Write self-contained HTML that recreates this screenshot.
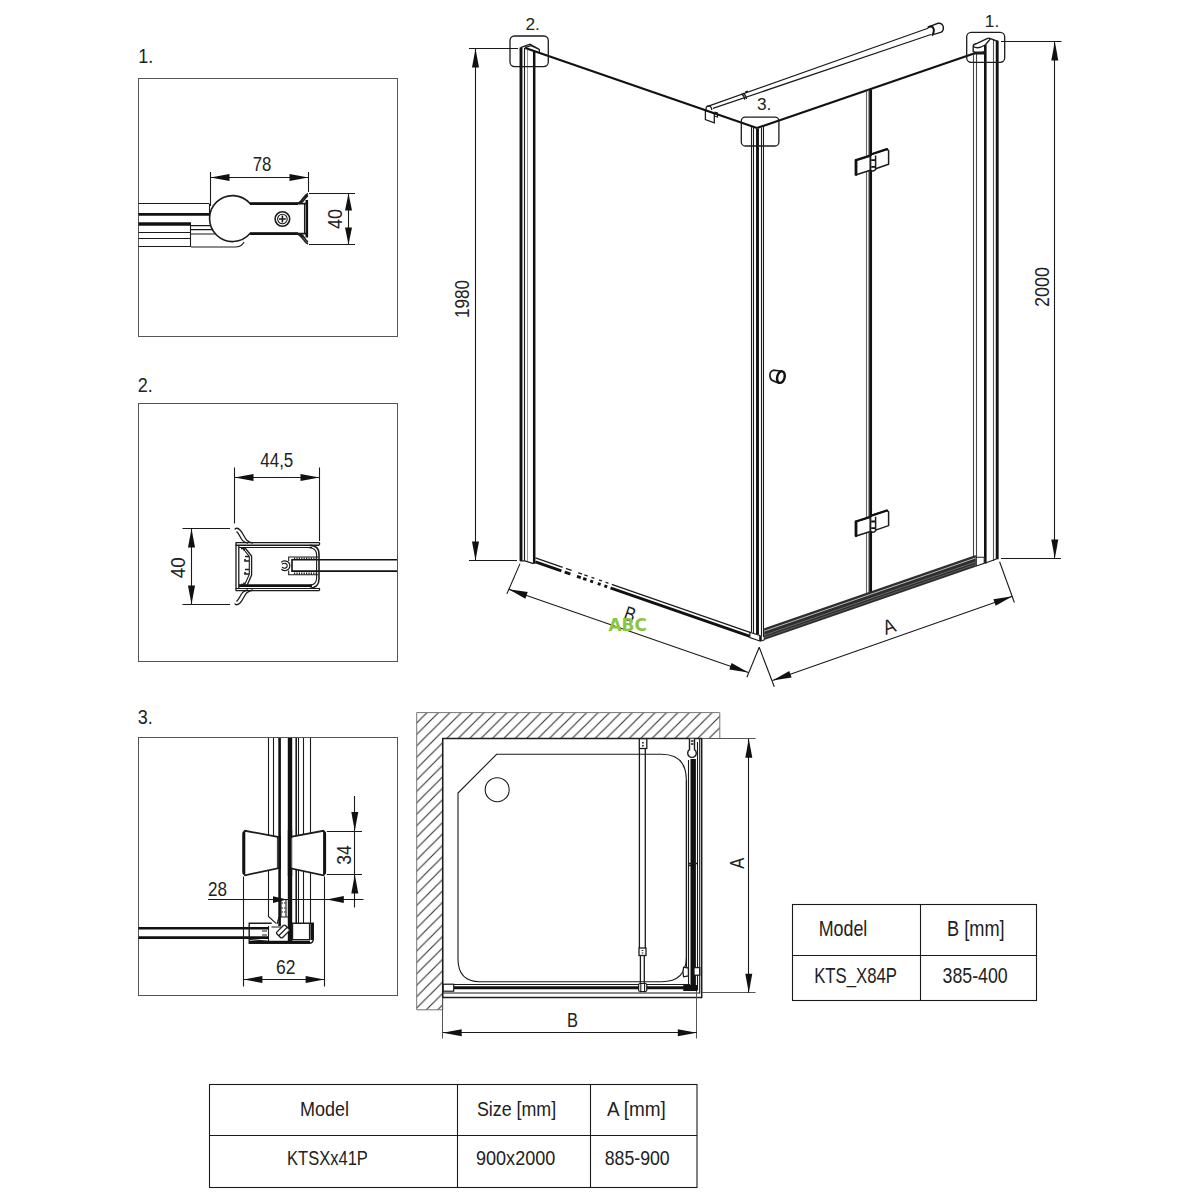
<!DOCTYPE html>
<html lang="en">
<head>
<meta charset="utf-8">
<title>Shower enclosure technical drawing</title>
<style>
html,body{margin:0;padding:0;background:#fff;}
body{width:1200px;height:1200px;overflow:hidden;font-family:"Liberation Sans",sans-serif;}
svg{display:block;}
svg text{font-family:"Liberation Sans",sans-serif;fill:#222;}
.t{stroke:#1a1a1a;stroke-width:1.1;fill:none;}
.g{stroke:#555;stroke-width:1;fill:none;}
.m{stroke:#1c1c1c;stroke-width:1.6;fill:none;}
.k{stroke:#111;stroke-width:2.6;fill:none;}
.kk{stroke:#111;stroke-width:3.6;fill:none;}
.w{fill:#fff;}
.ar{fill:#111;stroke:none;}
.d{font-size:20.5px;}
.lb{font-size:17.3px;}
.lbl{font-size:19.3px;}
.tb{font-size:20px;}
.tb2{font-size:21.5px;}
</style>
</head>
<body>
<svg width="1200" height="1200" viewBox="0 0 1200 1200">
<rect x="0" y="0" width="1200" height="1200" fill="#fff"/>

<!-- ===== detail frames and labels ===== -->
<g id="frames">
<rect class="g" x="138.5" y="78.5" width="259" height="258"/>
<rect class="g" x="138.5" y="403.5" width="259" height="258"/>
<rect class="g" x="138.5" y="737.5" width="259" height="258"/>
<text class="lbl" x="138.3" y="63" textLength="15" lengthAdjust="spacingAndGlyphs">1.</text>
<text class="lbl" x="137.8" y="392.3" textLength="15" lengthAdjust="spacingAndGlyphs">2.</text>
<text class="lbl" x="137.8" y="724.3" textLength="15" lengthAdjust="spacingAndGlyphs">3.</text>
</g>

<g id="detail1">
<line class="t" x1="138.5" y1="203.5" x2="209.0" y2="203.5"/>
<line class="t" x1="209.5" y1="203.6" x2="209.5" y2="214.0"/>
<line class="k" x1="138.5" y1="214.4" x2="212.0" y2="214.4"/>
<line class="kk" x1="138.5" y1="224.0" x2="191.0" y2="224.0"/>
<line class="t" x1="138.5" y1="232.5" x2="190.0" y2="232.5"/>
<line class="t" x1="138.5" y1="238.5" x2="190.0" y2="238.5"/>
<line class="t" x1="138.5" y1="246.5" x2="190.0" y2="246.5"/>
<line class="t" x1="190.5" y1="224.0" x2="190.5" y2="247.0"/>
<path class="t" d="M191,225.6 H214 M191,229.6 H212 M191,234 H215 M191,247 H236 Q242,246.5 244,242"/>
<path class="m" d="M307,203.6 H250 A23,23 0 1 0 250,233.6 H307" style="fill:#fff"/>
<line class="k" x1="250.0" y1="203.6" x2="298.0" y2="203.6"/>
<line class="k" x1="250.0" y1="233.6" x2="298.0" y2="233.6"/>
<line class="k" x1="306.8" y1="200.0" x2="306.8" y2="237.5"/>
<line class="t" x1="304.5" y1="204.0" x2="304.5" y2="233.5"/>
<path class="m" d="M296,203.6 C302,203.6 302.5,196 308,193.5 M299,203.6 C304,203 304,198 308,195.5"/>
<path class="m" d="M296,233.6 C302,233.6 302.5,241.5 308,244 M299,233.6 C304,234.2 304,239.5 308,242"/>
<circle class="m" cx="282.4" cy="219" r="7.3"/>
<circle class="t" cx="282.4" cy="219" r="4.8"/>
<path class="m" d="M279,219 H285.8 M282.4,215.6 V222.4"/>
<line class="t" x1="210.5" y1="172.0" x2="210.5" y2="206.0"/>
<line class="t" x1="308.5" y1="172.0" x2="308.5" y2="192.0"/>
<line class="t" x1="210.0" y1="177.5" x2="308.0" y2="177.5"/>
<polygon class="ar" points="210.5,177.5 229.5,174.0 229.5,181.0"/>
<polygon class="ar" points="308.5,177.5 289.5,181.0 289.5,174.0"/>
<text class="d" x="262.0" y="171.0" textLength="18.6" lengthAdjust="spacingAndGlyphs" text-anchor="middle">78</text>
<line class="t" x1="309.0" y1="193.5" x2="355.0" y2="193.5"/>
<line class="t" x1="309.0" y1="244.5" x2="355.0" y2="244.5"/>
<line class="t" x1="348.5" y1="193.5" x2="348.5" y2="244.5"/>
<polygon class="ar" points="348.5,193.5 352.0,210.5 345.0,210.5"/>
<polygon class="ar" points="348.5,244.5 345.0,227.5 352.0,227.5"/>
<text class="d" transform="translate(342.0,219.0) rotate(-90)" textLength="20.0" lengthAdjust="spacingAndGlyphs" text-anchor="middle">40</text>
</g>
<g id="detail2">
<path class="k" d="M397,559.8 H292 V571.1 H397" style="stroke-width:1.6"/>
<path class="t" d="M318,557 H288.7 V561 M288.7,570.5 V574.8 H318"/>
<path class="t" d="M294,558.4 H316 M294,573.4 H316" stroke-dasharray="1.2 1.2" style="stroke-width:2"/>
<path class="m" d="M281.4,562.3 C283,560 289.8,560.5 289.8,565.7 C289.8,571 283,571.5 281.4,569.2" style="stroke-width:1.2"/>
<path class="m" d="M282,564.2 C284,562.6 287.2,563 287.2,565.7 C287.2,568.5 284,568.9 282,567.3" style="stroke-width:1.2"/>
<path class="m" d="M235.6,542.6 H319 Q320.3,543.8 319,545.2 M235.6,590.6 H319 Q320.3,589.5 319,588.2" style="stroke-width:1.3"/>
<line class="m" x1="235.6" y1="545.2" x2="319.0" y2="545.2"/>
<line class="t" x1="239.0" y1="547.5" x2="312.0" y2="547.5"/>
<line class="k" x1="239.0" y1="585.6" x2="312.0" y2="585.6"/>
<line class="t" x1="235.6" y1="588.5" x2="319.0" y2="588.5"/>
<path class="m" d="M236,542.6 V590.6 M238.8,545 V588" style="stroke-width:1.3"/>
<path class="m" d="M310,545.4 C316,545.6 319,549 319,554 V579 C319,584 316,588 310,588.2"/>
<path class="t" d="M309,547.8 C313.5,548 316.6,550.5 316.6,555 V578 C316.6,582.5 313.5,585.2 309,585.4"/>
<path class="m" d="M244.7,547.5 L251.6,556 V575 L247,585.5" style="stroke-width:1.3"/>
<path class="t" d="M242.5,548 L249.3,556.5 V574.5 L244.5,585"/>
<path class="m" d="M241,548.5 h3 v2 M241,584.5 h3 v-2 M245,556.5 h4 M245,559 v2 h4 M245,569.5 h4 M245,572 v2 h4" style="stroke-width:1.6"/>
<path class="m" d="M234.8,529.5 C235.5,527.5 238,528 240,530 C245,535 244,541.5 253,543 M236.5,531.5 C241,535 240,542 248,543" style="stroke-width:1.3"/>
<path class="m" d="M234.8,603.5 C235.5,605.5 238,605 240,603 C245,598 244,591.5 253,590 M236.5,601.5 C241,598 240,591 248,590" style="stroke-width:1.3"/>
<line class="t" x1="234.5" y1="467.5" x2="234.5" y2="523.5"/>
<line class="t" x1="319.5" y1="467.5" x2="319.5" y2="541.0"/>
<line class="t" x1="234.5" y1="477.5" x2="319.5" y2="477.5"/>
<polygon class="ar" points="234.5,477.5 253.5,474.0 253.5,481.0"/>
<polygon class="ar" points="319.5,477.5 300.5,481.0 300.5,474.0"/>
<text class="d" x="276.8" y="467.0" textLength="33.0" lengthAdjust="spacingAndGlyphs" text-anchor="middle">44,5</text>
<line class="t" x1="182.5" y1="528.5" x2="230.0" y2="528.5"/>
<line class="t" x1="182.5" y1="604.5" x2="230.0" y2="604.5"/>
<line class="t" x1="191.5" y1="528.5" x2="191.5" y2="604.5"/>
<polygon class="ar" points="191.5,528.5 195.0,547.5 188.0,547.5"/>
<polygon class="ar" points="191.5,604.5 188.0,585.5 195.0,585.5"/>
<text class="d" transform="translate(184.7,567.8) rotate(-90)" textLength="21.0" lengthAdjust="spacingAndGlyphs" text-anchor="middle">40</text>
</g>
<g id="detail3">
<path class="t" d="M268.5,738 V916.5 L276,923.3"/>
<line class="t" x1="273.5" y1="738.0" x2="273.5" y2="836.0"/>
<line class="k" x1="279.6" y1="738.0" x2="279.6" y2="926.0"/>
<line class="kk" style="stroke-width:4.4" x1="290" y1="738" x2="290" y2="941"/>
<line class="m" x1="296.2" y1="738.0" x2="296.2" y2="923.3"/>
<line class="t" x1="298.5" y1="738.0" x2="298.5" y2="923.3"/>
<line class="t" x1="303.5" y1="738.0" x2="303.5" y2="923.3"/>
<line class="t" x1="310.5" y1="738.0" x2="310.5" y2="923.3"/>
<path class="m" d="M277.8,836.8 L245,830.8 Q243.2,832 243.2,834 V872 Q243.2,874 245,875.3 L277.8,868.3 Z" style="fill:#fff;stroke-width:1.8"/>
<line class="k" x1="244.0" y1="832.0" x2="244.0" y2="874.0"/>
<path class="m" d="M290.6,836.8 L323.4,830.8 Q325.2,832 325.2,834 V872 Q325.2,874 323.4,875.3 L290.6,868.3 Z" style="fill:#fff;stroke-width:1.8"/>
<line class="k" x1="324.4" y1="832.0" x2="324.4" y2="874.0"/>
<line class="k" x1="279.6" y1="836.0" x2="279.6" y2="869.0"/>
<line class="kk" style="stroke-width:4.4" x1="290" y1="830" x2="290" y2="876"/>
<path class="g" d="M277.8,838 V867.5 M291.5,838 V867.5"/>
<line class="k" x1="138.5" y1="928.3" x2="268.0" y2="928.3"/>
<line class="k" x1="138.5" y1="937.6" x2="268.0" y2="937.6"/>
<path class="m" d="M271.7,923.3 H249.2 V943.3 H309 Q313.3,943.3 313.3,939 V923.3 H292.5 V939.6 H309.6 V923.3" style="stroke-width:1.4"/>
<line class="k" x1="249.2" y1="942.0" x2="310.0" y2="942.0"/>
<line class="k" x1="311.8" y1="923.3" x2="311.8" y2="940.0"/>
<path class="t" d="M250,939.5 L270,941.5 M268.5,926 V941 M271.5,927 H281 M262,931 h5 M262,935 h5"/>
<g transform="translate(283,931.5) rotate(-45)"><rect class="m" style="stroke-width:1.3;fill:#fff" x="-6" y="-4" width="12" height="8" rx="1.5"/><line class="t" x1="-6" y1="0" x2="6" y2="0"/></g>
<path class="t" d="M277,924 L279,917 H288 M281,917 V900 M286,917 V900"/>
<path class="t" d="M281.5,903 h4 M281.5,908 h4 M281.5,912 h4" stroke-dasharray="1.5 1"/>
<line class="t" x1="326.8" y1="831.5" x2="362.0" y2="831.5"/>
<line class="t" x1="326.8" y1="874.5" x2="362.0" y2="874.5"/>
<line class="t" x1="354.5" y1="796.0" x2="354.5" y2="907.5"/>
<polygon class="ar" points="354.8,831.0 351.3,812.0 358.3,812.0"/>
<polygon class="ar" points="354.8,874.5 358.3,893.5 351.3,893.5"/>
<text class="d" transform="translate(350.5,855.0) rotate(-90)" textLength="19.5" lengthAdjust="spacingAndGlyphs" text-anchor="middle">34</text>
<line class="t" x1="208.0" y1="899.5" x2="363.5" y2="899.5"/>
<polygon class="ar" points="326.8,899.6 343.8,896.1 343.8,903.1"/>
<polygon class="ar" points="287.0,899.6 273.0,902.9 273.0,896.3"/>
<text class="d" x="217.5" y="896.3" textLength="19.0" lengthAdjust="spacingAndGlyphs" text-anchor="middle">28</text>
<line class="t" x1="243.5" y1="876.5" x2="243.5" y2="986.5"/>
<line class="t" x1="324.5" y1="876.5" x2="324.5" y2="986.5"/>
<line class="t" x1="243.4" y1="979.5" x2="324.6" y2="979.5"/>
<polygon class="ar" points="243.4,979.5 262.4,976.0 262.4,983.0"/>
<polygon class="ar" points="324.6,979.5 305.6,983.0 305.6,976.0"/>
<text class="d" x="285.7" y="974.2" textLength="19.5" lengthAdjust="spacingAndGlyphs" text-anchor="middle">62</text>
</g>
<g id="main">
<line class="t" x1="469.0" y1="48.5" x2="518.0" y2="48.5"/>
<line class="t" x1="469.0" y1="560.5" x2="517.0" y2="560.5"/>
<line class="t" x1="475.5" y1="48.5" x2="475.5" y2="560.5"/>
<polygon class="ar" points="475.5,48.5 479.0,67.5 472.0,67.5"/>
<polygon class="ar" points="475.5,560.5 472.0,541.5 479.0,541.5"/>
<text class="d" transform="translate(468.5,299.0) rotate(-90)" textLength="38.0" lengthAdjust="spacingAndGlyphs" text-anchor="middle">1980</text>
<line class="t" x1="1001.0" y1="41.5" x2="1061.5" y2="41.5"/>
<line class="t" x1="1001.0" y1="558.5" x2="1061.0" y2="558.5"/>
<line class="t" x1="1054.5" y1="41.5" x2="1054.5" y2="558.5"/>
<polygon class="ar" points="1054.8,41.5 1058.3,60.5 1051.3,60.5"/>
<polygon class="ar" points="1054.8,558.5 1051.3,539.5 1058.3,539.5"/>
<text class="d" transform="translate(1048.5,287.0) rotate(-90)" textLength="40.0" lengthAdjust="spacingAndGlyphs" text-anchor="middle">2000</text>
<path class="m" d="M707,106.6 L928,28.25 M712.9,108.4 L931,34.5" style="stroke-width:1.3"/>
<path class="k" d="M927.8,27.8 Q930.5,25.3 932.8,27.3 Q935.3,31 932,35.6" style="stroke-width:2"/>
<path class="m" d="M930.5,26.2 L938,23.3 Q942,22.6 943.3,26.6 Q943.8,30.6 941.3,32.2 L934,34.4" style="stroke-width:1.4"/>
<path class="m" d="M741.5,93.6 Q744.5,96 744.8,99.6 M743.3,93 Q746.3,95.4 746.6,99 M745,92.2 l3,-1" style="stroke-width:1.4"/>
<path class="m" d="M706.2,110 Q705.5,106 708.5,105.8 Q711.5,106 711.8,110" style="stroke-width:1.3"/>
<path class="m" d="M705.4,110.5 L714.3,113.5 V122.8 L705.4,119.6 Z" style="stroke-width:1.3;fill:#fff"/>
<path class="t" d="M714.3,112 L717.5,113 V117 L714.3,116"/>
<path class="k" d="M525.3,48 L756.9,128.1" style="stroke-width:2.1"/>
<path class="k" d="M756.9,128.1 L974.7,53.3" style="stroke-width:2.1"/>
<line class="k" x1="521.0" y1="47.5" x2="521.0" y2="561.0" style="stroke-width:2.9"/>
<line class="t" x1="524.5" y1="48.0" x2="524.5" y2="561.0"/>
<line class="k" x1="534.2" y1="51.0" x2="534.2" y2="563.8" style="stroke-width:2.5"/>
<path class="m" d="M520.5,47.6 L530,44.2 L539.3,49.3 V52.6 M524.8,47.6 L531,45.6 L539.3,49.3" style="stroke-width:1.3"/>
<line class="t" x1="751.5" y1="127.0" x2="751.5" y2="632.5"/>
<line class="t" x1="753.5" y1="127.5" x2="753.5" y2="633.0"/>
<line class="kk" x1="757.5" y1="128.5" x2="757.5" y2="634.5" style="stroke-width:2.9"/>
<line class="t" x1="761.5" y1="127.5" x2="761.5" y2="636.0"/>
<line class="t" x1="763.5" y1="127.0" x2="763.5" y2="637.0"/>
<line class="t" x1="973.5" y1="54.0" x2="973.5" y2="557.5" style="stroke:#444"/>
<line class="t" x1="976.5" y1="54.0" x2="976.5" y2="557.5" style="stroke:#444"/>
<line class="k" x1="985.3" y1="44.7" x2="985.3" y2="563.5"/>
<line class="t" x1="993.5" y1="40.0" x2="993.5" y2="561.0" style="stroke:#555"/>
<line class="k" x1="997.2" y1="40.7" x2="997.2" y2="559.3" style="stroke-width:2.9"/>
<path class="m" d="M973.2,46.5 Q973,44.6 976,43.8 L987,38.6 Q989,37.6 990.5,38.6 L998,41.5 M990.5,38.6 L985.5,44.8 M973.2,46.5 Q978,49.5 985,45 M973.2,46.5 V51.5 Q978,55 985,51.5" style="stroke-width:1.4"/>
<path class="m" d="M974,52.3 H985 M974,53.6 H985"/>
<line class="t" x1="866.5" y1="91.0" x2="866.5" y2="595.0" style="stroke:#666"/>
<line class="t" x1="868.5" y1="90.5" x2="868.5" y2="594.5" style="stroke:#999"/>
<line class="k" x1="870.6" y1="89.5" x2="870.6" y2="594.0" style="stroke-width:2.9"/>
<path class="m" d="M856.2,160.2 L870.3,155.8 V170.3 L856.2,174.7 Z" style="fill:#fff;stroke-width:1.6;stroke-linejoin:round"/>
<path class="k" d="M856,160.5 V174.5" style="stroke-width:2.8;stroke-linecap:round"/>
<path class="k" d="M856,160.2 L870.3,155.6" style="stroke-width:2.3;stroke-linecap:round"/>
<path class="m" d="M872.2,154.0 L886.9,149.2 L888.6,150.6 V164.3 L875.6,168.8" style="fill:#fff;stroke-width:1.5;stroke-linejoin:round"/>
<path class="k" d="M872.2,154.0 L886.9,149.2" style="stroke-width:2.3;stroke-linecap:round"/>
<path class="m" d="M870.6,156.0 V170.0 Q873,172.3 875.6,169.5 V155.5" style="fill:#fff;stroke-width:1.5"/>
<path class="k" d="M871.2,160.2 H875 M871.2,166.8 H875" style="stroke-width:1.8"/>
<path class="m" d="M856.2,521.5 L870.3,517.1 V531.6 L856.2,536.0 Z" style="fill:#fff;stroke-width:1.6;stroke-linejoin:round"/>
<path class="k" d="M856,521.8 V535.8" style="stroke-width:2.8;stroke-linecap:round"/>
<path class="k" d="M856,521.5 L870.3,516.9" style="stroke-width:2.3;stroke-linecap:round"/>
<path class="m" d="M872.2,515.3 L886.9,510.5 L888.6,511.9 V525.6 L875.6,530.1" style="fill:#fff;stroke-width:1.5;stroke-linejoin:round"/>
<path class="k" d="M872.2,515.3 L886.9,510.5" style="stroke-width:2.3;stroke-linecap:round"/>
<path class="m" d="M870.6,517.3 V531.3 Q873,533.6 875.6,530.8 V516.8" style="fill:#fff;stroke-width:1.5"/>
<path class="k" d="M871.2,521.5 H875 M871.2,528.1 H875" style="stroke-width:1.8"/>
<path class="m" d="M780.3,371 L773.4,370.2 Q769.4,371.6 770,376.2 Q770.4,379.6 772.2,380.4 L779,383.3" style="stroke-width:1.7"/>
<ellipse class="k" style="stroke-width:2.4" cx="780.9" cy="377.1" rx="3.7" ry="5.9" transform="rotate(14 780.9 377.1)"/>
<path class="m" d="M535.4,557.9 L750,632.4" style="stroke-width:1.3"/>
<path class="k" d="M535.4,561.9 L750,636.4" style="stroke-width:2.7"/>
<path class="m" d="M520,560.8 H524.8 L533.5,563.6" style="stroke-width:1.3"/>
<line class="g" x1="527.5" y1="50.0" x2="527.5" y2="561.0" style="stroke:#999"/>
<path class="t" d="M562,569.2 L614,587.2" style="stroke:#fff;stroke-width:8" stroke-dasharray="3.5 6 7 4 2.5 3.5 4 3 5 3 4 3"/>
<path class="m" d="M749.8,632.2 L759.8,635.4 V641 L749.8,637.6 Z" style="stroke-width:1.2;fill:#fff"/>
<path class="k" d="M760.8,635.8 V641.4" style="stroke-width:1.9"/>
<path class="t" d="M761.8,640.8 L764.3,639.8 V636.5"/>
<polygon points="764.2,628.3 975.8,555 975.8,566.7 764.2,640" fill="#2e2e2e"/>
<path class="t" d="M764.2,631.2 L975.8,557.9" style="stroke:#c8c8c8;stroke-width:0.9"/>
<path class="t" d="M764.2,635.2 L975.8,561.9" style="stroke:#777;stroke-width:0.8"/>
<path class="t" d="M764.2,637.6 L975.8,564.3" style="stroke:#777;stroke-width:0.6"/>
<polygon points="976.3,557.3 984.2,557.3 984.2,563.3 976.3,566" fill="#fff" stroke="#222" stroke-width="1.1"/>
<path class="m" d="M985.4,563 L996.5,559" style="stroke-width:1.2"/>
<line class="t" x1="520.0" y1="563.6" x2="506.9" y2="593.9"/>
<line class="t" x1="759.2" y1="647.3" x2="746.9" y2="677.3"/>
<line class="t" x1="508.6" y1="589.2" x2="748.4" y2="672.4"/>
<polygon class="ar" points="508.6,589.2 527.7,592.1 525.4,598.7"/>
<polygon class="ar" points="748.4,672.4 729.3,669.5 731.6,662.9"/>
<text class="d" transform="translate(627.7,620.9) rotate(19.1345)" textLength="11.0" lengthAdjust="spacingAndGlyphs" text-anchor="middle">B</text>
<line class="t" x1="759.2" y1="647.3" x2="774.3" y2="686.7"/>
<line class="t" x1="999.6" y1="561.7" x2="1014.4" y2="602.5"/>
<line class="t" x1="772.5" y1="680.5" x2="1012.5" y2="596.2"/>
<polygon class="ar" points="772.5,680.5 789.3,670.9 791.6,677.5"/>
<polygon class="ar" points="1012.5,596.2 995.7,605.8 993.4,599.2"/>
<text class="d" transform="translate(891.5,633.0) rotate(-19.3538)" textLength="12.0" lengthAdjust="spacingAndGlyphs" text-anchor="middle">A</text>
<rect class="m" style="stroke-width:1.3" x="510" y="36" width="38.3" height="30.6" rx="4.5"/>
<rect class="m" style="stroke-width:1.3" x="741.3" y="117.1" width="37.6" height="28.9" rx="4"/>
<rect class="m" style="stroke-width:1.3" x="966.7" y="32.3" width="38" height="30" rx="4.5"/>
<text class="lb" x="525.5" y="30.0">2.</text>
<text class="lb" x="757.0" y="110.3">3.</text>
<text class="lb" x="984.8" y="26.7">1.</text>
<text x="608.5" y="630.6" textLength="38.5" lengthAdjust="spacingAndGlyphs" style="font-family:'DejaVu Sans','Liberation Sans',sans-serif;font-size:17.6px;font-weight:bold;fill:#8cc63f">ABC</text>
</g>
<g id="plan">
<defs><pattern id="hatch" width="11.4" height="11.4" patternUnits="userSpaceOnUse" patternTransform="translate(-0.3 0)"><path d="M-1,12.4 L12.4,-1 M-1,1 L1,-1 M10.4,12.4 L12.4,10.4" stroke="#2a2a2a" stroke-width="1.05" fill="none"/></pattern></defs>
<path d="M416.7,712.6 H719.8 V738.5 H442.7 V1009.8 H416.7 Z" fill="url(#hatch)" stroke="#777" stroke-width="1"/>
<path class="m" d="M442.7,738.5 H701.7 V997.5 H442.7 Z" style="stroke-width:1.5"/>
<path class="t" d="M442.7,993 H699.7 V738.7"/>
<path class="t" d="M496.6,754.3 H661.5 Q686.3,754.3 686.3,780 V957 Q686.3,981.7 661.5,981.7 H480 Q458,981.7 458,959 V793 Z"/>
<circle class="t" cx="497.2" cy="789.7" r="12"/>
<path class="m" d="M639.4,748.5 V948 M645.3,748.5 V948 M640.4,955.5 V984 M644.3,955.5 V984" style="stroke-width:1.3"/>
<rect class="m" style="stroke-width:1.3;fill:#fff" x="639.3" y="738.7" width="7.5" height="9.8"/>
<path class="m" d="M642.9,742 v1.5 M642.9,745 v1.5"/>
<rect class="m" style="stroke-width:1.3;fill:#fff" x="639" y="948" width="7" height="7.5"/>
<path class="m" d="M642.5,950 v1 M642.5,952.5 v1"/>
<line class="k" x1="452.0" y1="987.7" x2="684.0" y2="987.7" style="stroke-width:3"/>
<line class="t" x1="443.0" y1="984.5" x2="690.0" y2="984.5"/>
<rect class="m" style="stroke-width:1.2;fill:#fff" x="443.2" y="984.2" width="10.5" height="7"/>
<rect class="m" style="stroke-width:1.2;fill:#fff" x="638.6" y="983.5" width="8.2" height="8" rx="1.5"/>
<path class="t" d="M640.8,984 V992.3 M644.6,984 V992.3"/>
<line class="t" x1="686.5" y1="780.0" x2="686.5" y2="968.0"/>
<line class="t" x1="688.5" y1="760.0" x2="688.5" y2="985.0"/>
<line class="kk" x1="693.2" y1="759.0" x2="693.2" y2="989.0" style="stroke-width:5.4"/>
<line class="t" x1="697.5" y1="742.0" x2="697.5" y2="990.0"/>
<rect x="683.3" y="985" width="14.2" height="6" fill="#111"/>
<path class="m" d="M689.5,738.7 V749.6 A4.3,4.3 0 1 0 694.5,749.6 V738.7" style="stroke-width:1.4;fill:#fff"/>
<path class="m" d="M691,741 h2.5 M691,744 h2.5"/>
<path class="m" d="M688.4,968 L683.6,967.2 Q682.3,972 683.6,976.8 L688.4,976 Z" style="stroke-width:1.3;fill:#fff"/>
<rect class="m" style="stroke-width:1.3;fill:#fff" x="694" y="967.6" width="5.7" height="7.6"/>
<path class="m" d="M688,863.5 h3 M694,863.5 h3 M688,865.5 h3"/>
<line class="g" x1="702.0" y1="738.5" x2="755.5" y2="738.5"/>
<line class="g" x1="702.0" y1="992.5" x2="755.5" y2="992.5"/>
<line class="t" x1="748.5" y1="738.7" x2="748.5" y2="992.7"/>
<polygon class="ar" points="748.8,738.7 752.3,757.7 745.3,757.7"/>
<polygon class="ar" points="748.8,992.7 745.3,973.7 752.3,973.7"/>
<text class="d" transform="translate(744.4,863.3) rotate(-90)" textLength="11.0" lengthAdjust="spacingAndGlyphs" text-anchor="middle">A</text>
<line class="g" x1="442.5" y1="998.0" x2="442.5" y2="1038.5"/>
<line class="g" x1="696.5" y1="991.0" x2="696.5" y2="1038.5"/>
<line class="t" x1="442.7" y1="1032.5" x2="696.8" y2="1032.5"/>
<polygon class="ar" points="442.7,1032.7 461.7,1029.2 461.7,1036.2"/>
<polygon class="ar" points="696.8,1032.7 677.8,1036.2 677.8,1029.2"/>
<text class="d" x="572.6" y="1027.2" textLength="11.0" lengthAdjust="spacingAndGlyphs" text-anchor="middle">B</text>
</g>

<!-- ===== tables ===== -->
<g id="table-b">
<rect class="t" x="792.5" y="904.5" width="244" height="96"/>
<line class="t" x1="792.5" y1="955.5" x2="1036.5" y2="955.5"/>
<line class="t" x1="920.5" y1="904.5" x2="920.5" y2="1000.5"/>
<text class="tb2" x="818.7" y="935.7" textLength="48.6" lengthAdjust="spacingAndGlyphs">Model</text>
<text class="tb2" x="947" y="935.7" textLength="57.6" lengthAdjust="spacingAndGlyphs">B [mm]</text>
<text class="tb2" x="814.2" y="982.7" textLength="82.8" lengthAdjust="spacingAndGlyphs">KTS_X84P</text>
<text class="tb2" x="942.5" y="982.7" textLength="65.2" lengthAdjust="spacingAndGlyphs">385-400</text>
</g>
<g id="table-a">
<rect class="t" x="209.5" y="1084.5" width="487.5" height="103"/>
<line class="t" x1="209.5" y1="1135.5" x2="697" y2="1135.5"/>
<line class="t" x1="457.5" y1="1084.5" x2="457.5" y2="1187.5"/>
<line class="t" x1="590.5" y1="1084.5" x2="590.5" y2="1187.5"/>
<text class="tb" x="300.1" y="1115.7" textLength="49" lengthAdjust="spacingAndGlyphs">Model</text>
<text class="tb" x="476.9" y="1115.7" textLength="79.3" lengthAdjust="spacingAndGlyphs">Size [mm]</text>
<text class="tb" x="606.9" y="1115.7" textLength="58.9" lengthAdjust="spacingAndGlyphs">A [mm]</text>
<text class="tb" x="287.1" y="1165" textLength="80.8" lengthAdjust="spacingAndGlyphs">KTSXx41P</text>
<text class="tb" x="476" y="1165" textLength="79.3" lengthAdjust="spacingAndGlyphs">900x2000</text>
<text class="tb" x="604.7" y="1165" textLength="65" lengthAdjust="spacingAndGlyphs">885-900</text>
</g>
</svg>
</body>
</html>
